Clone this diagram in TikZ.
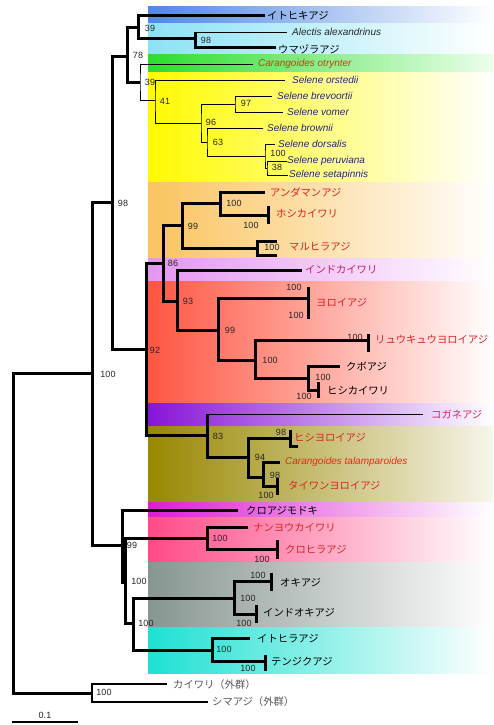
\documentclass[tikz,border=0pt]{standalone}
\usepackage{fontspec}
\setmainfont{Liberation Sans}
\newfontfamily\jp{Noto Sans CJK JP}
\definecolor{cblue}{RGB}{80,135,228}
\definecolor{ccyan}{RGB}{140,226,245}
\definecolor{cgreen}{RGB}{45,220,45}
\definecolor{cyellow}{RGB}{255,250,0}
\definecolor{corange}{RGB}{250,195,95}
\definecolor{cviolet}{RGB}{228,150,240}
\definecolor{cred}{RGB}{255,85,65}
\definecolor{cpurple}{RGB}{135,20,215}
\definecolor{colive}{RGB}{152,135,0}
\definecolor{cmagenta}{RGB}{220,30,210}
\definecolor{cpink}{RGB}{255,75,135}
\definecolor{cgray}{RGB}{135,150,145}
\definecolor{cturq}{RGB}{30,225,210}
\definecolor{jred}{RGB}{215,35,35}
\definecolor{selblue}{RGB}{35,35,140}
\definecolor{otbrown}{RGB}{185,70,10}
\definecolor{talred}{RGB}{220,45,20}
\definecolor{kogane}{RGB}{205,40,95}
\definecolor{indo}{RGB}{200,30,95}
\definecolor{outgray}{RGB}{85,85,85}
\begin{document}
\begin{tikzpicture}[x=1pt,y=-1pt,
  thk/.style={line width=3pt},
  thn/.style={line width=0.9pt},
  med/.style={line width=1.8pt},
  bs/.style={font=\fontsize{9}{9}\selectfont, inner sep=0pt, text=black!85},
  jlab/.style={anchor=west, inner sep=0pt, font=\jp\fontsize{10.3}{10.3}\selectfont},
  llab/.style={anchor=west, inner sep=0pt, font=\itshape\fontsize{10}{10}\selectfont},
]
\useasboundingbox (0,0) rectangle (493,725);
% ---------- bands ----------
\shade[left color=cblue, right color=white] (148,7) rectangle (493,24);
\shade[left color=ccyan, right color=white] (148,24) rectangle (493,55);
\shade[left color=cgreen, right color=green!8] (148,55) rectangle (493,72);
\shade[left color=cyellow, right color=white] (148,72) rectangle (493,182);
\shade[left color=corange, right color=white] (148,182) rectangle (493,258);
\shade[left color=cviolet, right color=white] (148,258) rectangle (493,281);
\shade[left color=cred, right color=white] (148,281) rectangle (493,403);
\shade[left color=cpurple, right color=white] (148,403) rectangle (493,426);
\shade[left color=colive, right color=colive!8] (148,426) rectangle (493,502);
\shade[left color=cmagenta, right color=white] (148,502) rectangle (493,517);
\shade[left color=cpink, right color=white] (148,517) rectangle (493,562);
\shade[left color=cgray, right color=white] (148,562) rectangle (493,627);
\shade[left color=cturq, right color=white] (148,627) rectangle (493,673);
% ---------- coordinates ----------
\coordinate (R) at (13,373);
\coordinate (I) at (92,373);
\coordinate (O) at (92,693);
\coordinate (T) at (112,202);
\coordinate (L) at (122,545);
\coordinate (U) at (127,57);
\coordinate (V) at (146,349);
\coordinate (W) at (138,28);
\coordinate (X) at (140,82);
\coordinate (Y) at (195,39);
\coordinate (Z) at (155,100);
\coordinate (A1) at (201,123);
\coordinate (A2) at (235,104);
\coordinate (A3) at (207,142);
\coordinate (A4) at (265,156);
\coordinate (A5) at (267,168);
\coordinate (B1) at (163,263);
\coordinate (B2) at (182,225);
\coordinate (B3) at (177,301);
\coordinate (B4) at (220,203);
\coordinate (B5) at (257,248);
\coordinate (B6) at (207,435);
\coordinate (B7) at (218,330);
\coordinate (B8) at (255,360);
\coordinate (B9) at (308,378);
\coordinate (B10) at (248,457);
\coordinate (B11) at (263,477);
\coordinate (M) at (125,582);
\coordinate (M1) at (207,538);
\coordinate (M2) at (133,623);
\coordinate (M3) at (234,598);
\coordinate (M4) at (212,650);
% tips
\coordinate (t1) at (265,16);
\coordinate (t2) at (287,32);
\coordinate (t3) at (276,48);
\coordinate (t4) at (253,64);
\coordinate (t5) at (285,80);
\coordinate (t6) at (272,96);
\coordinate (t7) at (283,112);
\coordinate (t8) at (263,128);
\coordinate (t9) at (275,144);
\coordinate (t10) at (287,161);
\coordinate (t11) at (288,175);
\coordinate (t12) at (265,192);
\coordinate (t13a) at (277,241);
\coordinate (t13b) at (277,255);
\coordinate (t14) at (302,270);
\coordinate (t15) at (340,366);
\coordinate (t16) at (423,414);
\coordinate (t17) at (280,462);
\coordinate (t18) at (238,510);
\coordinate (t19) at (248,527);
\coordinate (t20) at (250,638);
\coordinate (t21) at (167,684);
\coordinate (t22) at (208,702);
% bars (two samples)
\coordinate (P1) at (268,215);  \coordinate (P1a) at (268,206); \coordinate (P1b) at (268,224);
\coordinate (P2) at (308,298);  \coordinate (P2a) at (308,287); \coordinate (P2b) at (308,319);
\coordinate (P3) at (368,340);  \coordinate (P3a) at (368,334); \coordinate (P3b) at (368,352);
\coordinate (P4) at (318,390);  \coordinate (P4a) at (318,382); \coordinate (P4b) at (318,398);
\coordinate (P5) at (290,438);  \coordinate (P5a) at (290,430); \coordinate (P5b) at (290,446); \coordinate (P5c) at (298,446);
\coordinate (P6) at (277,486);  \coordinate (P6a) at (277,478); \coordinate (P6b) at (277,495);
\coordinate (P7) at (277,549);  \coordinate (P7a) at (277,540); \coordinate (P7b) at (277,559);
\coordinate (P8) at (271,581);  \coordinate (P8a) at (271,573); \coordinate (P8b) at (271,591);
\coordinate (P9) at (256,614);  \coordinate (P9a) at (256,605); \coordinate (P9b) at (256,623);
\coordinate (P10) at (265,661); \coordinate (P10a) at (265,655); \coordinate (P10b) at (265,671);
% ---------- branches ----------
\draw[thk] (I) -- (R) |- (O);
\draw[thk] (T) -| (I) |- (L);
\draw[thk] (U) -| (T) |- (V);
\draw[thk] (W) -| (U) |- (X);
\draw[thk] (t1) -| (W) |- (Y);
\draw[thk] (Y |- t2) |- (t3);
\draw[thn] (Y |- t2) -- (t2);
\draw[thn] (t4) -| (X) |- (Z);
\draw[thn] (t5) -| (Z) |- (A1);
\draw[thn] (A2) -| (A1) |- (A3);
\draw[thn] (t6) -| (A2) |- (t7);
\draw[thn] (t8) -| (A3) |- (A4);
\draw[thn] (t9) -| (A4) |- (A5);
\draw[thn] (t10) -| (A5) |- (t11);
\draw[thk] (B1) -| (V) |- (B6);
\draw[thk] (B2) -| (B1) |- (B3);
\draw[thk] (B4) -| (B2) |- (B5);
\draw[thk] (t12) -| (B4) |- (P1);
\draw[thk] (t13a) -| (B5) |- (t13b);
\draw[thk] (t14) -| (B3) |- (B7);
\draw[thk] (P2) -| (B7) |- (B8);
\draw[thk] (P3) -| (B8) |- (B9);
\draw[thk] (t15) -| (B9) |- (P4);
\draw[thk] (B6 |- t16) -- (B6) |- (B10);
\draw[thn] (B6 |- t16) -- (t16);
\draw[thk] (P5) -| (B10) |- (B11);
\draw[thk] (t17) -| (B11) |- (P6);
\draw[thk] (t18) -| (L) |- (M);
\draw[thk] (M1) -| (M) |- (M2);
\draw[thk] (t19) -| (M1) |- (P7);
\draw[thk] (M3) -| (M2) |- (M4);
\draw[thk] (P8) -| (M3) |- (P9);
\draw[thk] (t20) -| (M4) |- (P10);
\draw[med] (t21) -| (O) |- (t22);
\foreach \p in {P1,P2,P3,P4,P6,P7,P8,P9,P10}{\draw[thk] (\p a) -- (\p b);}
\draw[thk] (P5a) -- (P5b) -- (P5c);
% ---------- tip labels ----------
\node[jlab] (n1) at (267,16) {イトヒキアジ};
\node[llab, text=black!85] (n2) at (292,32) {Alectis alexandrinus};
\node[jlab] (n3) at (278,49) {ウマヅラアジ};
\node[llab, text=otbrown] (n4) at (258,64) {Carangoides otrynter};
\node[llab, text=selblue] (n5) at (292,80) {Selene orstedii};
\node[llab, text=selblue] (n6) at (277,96) {Selene brevoortii};
\node[llab, text=selblue] (n7) at (287,112) {Selene vomer};
\node[llab, text=selblue] (n8) at (267,128) {Selene brownii};
\node[llab, text=selblue] (n9) at (278,144) {Selene dorsalis};
\node[llab, text=selblue] (n10) at (287,161) {Selene peruviana};
\node[llab, text=selblue] (n11) at (289,175) {Selene setapinnis};
\node[jlab, text=jred] (n12) at (270,192) {アンダマンアジ};
\node[jlab, text=jred] (n13) at (276,214) {ホシカイワリ};
\node[jlab, text=jred] (n14) at (289,247) {マルヒラアジ};
\node[jlab, text=indo] (n15) at (305,270) {インドカイワリ};
\node[jlab, text=jred] (n16) at (316,303) {ヨロイアジ};
\node[jlab, text=jred] (n17) at (375,340) {リュウキュウヨロイアジ};
\node[jlab] (n18) at (346,367) {クボアジ};
\node[jlab] (n19) at (327,391) {ヒシカイワリ};
\node[jlab, text=kogane] (n20) at (431,414) {コガネアジ};
\node[jlab, text=jred] (n21) at (294,438) {ヒシヨロイアジ};
\node[llab, text=talred] (n22) at (285,462) {Carangoides talamparoides};
\node[jlab, text=jred] (n23) at (288,486) {タイワンヨロイアジ};
\node[jlab] (n24) at (246,511) {クロアジモドキ};
\node[jlab, text=jred] (n25) at (253,528) {ナンヨウカイワリ};
\node[jlab, text=jred] (n26) at (285,550) {クロヒラアジ};
\node[jlab] (n27) at (280,583) {オキアジ};
\node[jlab] (n28) at (263,613) {インドオキアジ};
\node[jlab] (n29) at (257,639) {イトヒラアジ};
\node[jlab] (n30) at (271,662) {テンジクアジ};
\node[jlab, text=outgray] (n31) at (173,685) {カイワリ（外群）};
\node[jlab, text=outgray] (n32) at (212,702) {シマアジ（外群）};
% ---------- bootstrap values ----------
\node[bs] (b1) at (108,374) {100};
\node[bs] (b2) at (123,203) {98};
\node[bs] (b3) at (138,55) {78};
\node[bs] (b4) at (150,28) {39};
\node[bs] (b5) at (206,40) {98};
\node[bs] (b6) at (150,82) {39};
\node[bs] (b7) at (165,101) {41};
\node[bs] (b8) at (211,122) {96};
\node[bs] (b9) at (246,103) {97};
\node[bs] (b10) at (218,142) {63};
\node[bs] (b11) at (278,153) {100};
\node[bs] (b12) at (277,167) {38};
\node[bs] (b13) at (155,350) {92};
\node[bs] (b14) at (173,263) {86};
\node[bs] (b15) at (193,226) {99};
\node[bs] (b16) at (234,203) {100};
\node[bs] (b17) at (251,225) {100};
\node[bs] (b18) at (272,247) {100};
\node[bs] (b19) at (188,301) {93};
\node[bs] (b20) at (230,330) {99};
\node[bs] (b21) at (294,287) {100};
\node[bs] (b22) at (296,315) {100};
\node[bs] (b23) at (270,360) {100};
\node[bs] (b24) at (355,337) {100};
\node[bs] (b25) at (323,377) {100};
\node[bs] (b26) at (304,396) {100};
\node[bs] (b27) at (218,436) {83};
\node[bs] (b28) at (281,432) {98};
\node[bs] (b29) at (260,457) {94};
\node[bs] (b30) at (275,475) {98};
\node[bs] (b31) at (266,495) {100};
\node[bs] (b32) at (132,545) {99};
\node[bs] (b33) at (139,581) {100};
\node[bs] (b34) at (220,538) {100};
\node[bs] (b35) at (262,559) {100};
\node[bs] (b36) at (146,623) {100};
\node[bs] (b37) at (258,575) {100};
\node[bs] (b38) at (248,598) {100};
\node[bs] (b39) at (244,623) {100};
\node[bs] (b40) at (224,649) {100};
\node[bs] (b41) at (248,668) {100};
\node[bs] (b42) at (104,692) {100};
% ---------- scale bar ----------
\coordinate (s1) at (12,722);
\coordinate (s2) at (78,722);
\draw[line width=2.5pt] (s1) -- (s2);
\node[bs] (sc) at (45,715) {0.1};
\end{tikzpicture}
\end{document}
